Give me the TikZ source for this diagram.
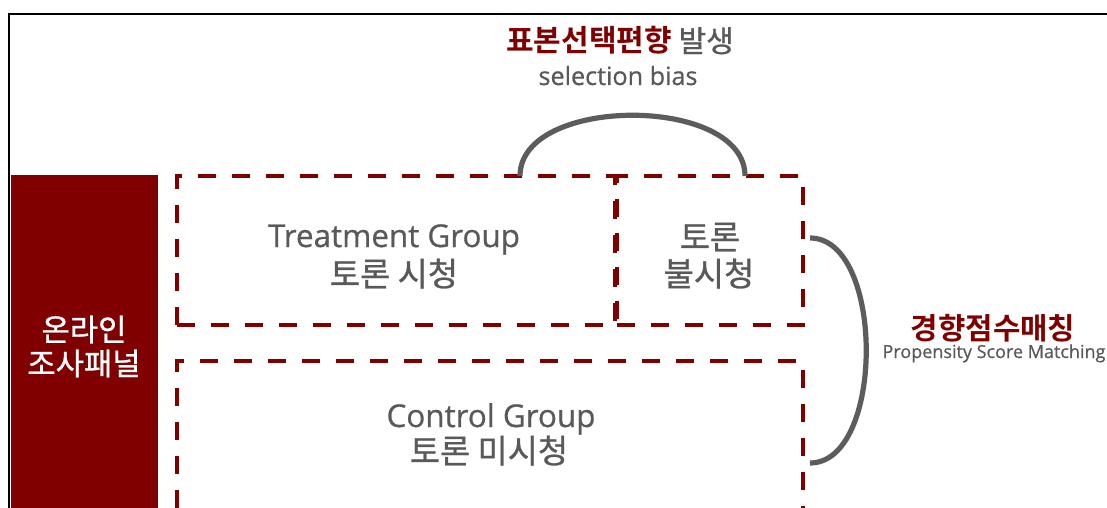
\documentclass[tikz,border=0pt]{standalone}
\usepackage{fontspec}
\setmainfont{Open Sans}[RawFeature={embolden=0.6}]
\newfontfamily\kr{Noto Sans CJK KR}[RawFeature={embolden=0.9}]
\newfontfamily\krb{Noto Sans CJK KR Bold}
\definecolor{dred}{HTML}{800000}
\definecolor{tgray}{HTML}{595959}
\definecolor{agray}{HTML}{5C5C5C}
\begin{document}
\begin{tikzpicture}[x=0.5pt,y=-0.5pt,
  grp/.style={draw=dred, line width=2pt, dash pattern=on 9pt off 8pt, minimum height=74.5pt, inner sep=0pt},
  lat/.style={anchor=base, inner sep=0pt, text=tgray, font=\fontsize{15.7}{18}\selectfont},
  kor/.style={anchor=base, inner sep=0pt, text=tgray, font=\kr\fontsize{16.4}{18}\selectfont},
  arcline/.style={draw=agray, line width=2.6pt}
]
\clip (0,0) rectangle (1107,508);
\fill[white] (0,0) rectangle (1107,508);
\draw[line width=1pt] (9,530) -- (9,14) -- (1130,14);
% panel
\node[fill=dred, minimum width=73.5pt, minimum height=167.5pt, inner sep=0pt] (panel) at (84.5,342.5) {};
\node[kor, text=white, font=\kr\fontsize{15.4}{18}\selectfont] (p1) at (84,341) {온라인};
\node[kor, text=white, font=\kr\fontsize{15.4}{18}\selectfont] (p2) at (84,375) {조사패널};
% boxes
\node[grp, minimum width=219pt] (tg) at (396,250.5) {};
\node[grp, minimum width=93pt] (nv) at (710,250.5) {};
\node[grp, minimum width=313pt] (cg) at (490,435.5) {};
% box texts
\node[lat] (t1) at (394,247) {Treatment Group};
\node[kor] (t2) at (394,286) {토론 시청};
\node[kor] (n1) at (710,249) {토론};
\node[kor] (n2) at (709,286) {불시청};
\node[lat] (c1) at (491,427) {Control Group};
\node[kor] (c2) at (489,463) {토론 미시청};
% selection bias
\node[kor, font=\kr\fontsize{15}{18}\selectfont] (sb1) at (620,52) {\textcolor{dred}{\krb 표본선택편향} 발생};
\node[lat, font=\fontsize{12.6}{15}\selectfont] (sb2) at (618,85) {selection bias};
\coordinate (a1) at (520,176);
\coordinate (a2) at (745,176);
\draw[arcline] (a1) .. controls (520,95) and (745,95) .. (a2);
% propensity
\node[kor, text=dred, font=\krb\fontsize{14.9}{18}\selectfont] (ps1) at (993,339) {경향점수매칭};
\node[lat, font=\fontsize{9}{11}\selectfont] (ps2) at (994,358) {Propensity Score Matching};
\coordinate (b1) at (810,238);
\coordinate (b2) at (810,463);
\draw[arcline] (b1) .. controls (885,238) and (885,463) .. (b2);
\end{tikzpicture}
\end{document}
